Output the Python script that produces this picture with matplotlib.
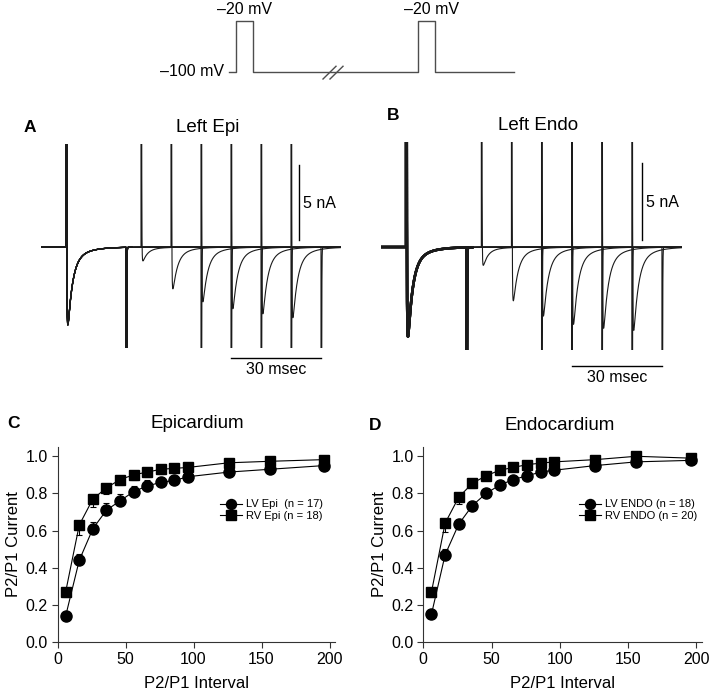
import numpy as np
import matplotlib.pyplot as plt

plt.rcParams['font.family'] = ['Liberation Sans', 'DejaVu Sans']

W, H = 709, 694

# ---- recovery curves (panels C, D) ----
interval = [6, 16, 26, 36, 46, 56, 66, 76, 86, 96, 126, 156, 196]

lv_epi = [0.14, 0.44, 0.61, 0.71, 0.76, 0.81, 0.84, 0.86, 0.87, 0.89, 0.915, 0.93, 0.95]
lv_epi_se = [0.02, 0.035, 0.034, 0.038, 0.036, 0.032, 0.03, 0.028, 0.025, 0.022, 0.02, 0.018, 0.015]
rv_epi = [0.27, 0.63, 0.77, 0.83, 0.875, 0.90, 0.915, 0.93, 0.935, 0.94, 0.965, 0.973, 0.982]
rv_epi_se = [0.03, 0.052, 0.045, 0.035, 0.032, 0.028, 0.026, 0.024, 0.022, 0.02, 0.02, 0.02, 0.018]

lv_endo = [0.15, 0.47, 0.635, 0.735, 0.80, 0.845, 0.875, 0.895, 0.915, 0.925, 0.95, 0.97, 0.978]
lv_endo_se = [0.02, 0.03, 0.03, 0.025, 0.022, 0.02, 0.018, 0.016, 0.015, 0.014, 0.012, 0.01, 0.01]
rv_endo = [0.27, 0.64, 0.78, 0.855, 0.895, 0.925, 0.94, 0.955, 0.963, 0.97, 0.982, 1.0, 0.99]
rv_endo_se = [0.03, 0.045, 0.035, 0.025, 0.02, 0.018, 0.016, 0.015, 0.014, 0.013, 0.012, 0.01, 0.01]

# ---- example current traces (panels A, B) ----
p2_start = [25, 35, 45, 55, 65, 75]   # ms after P1 onset
pulse_ms = 20
epi_p1 = 5.2                          # nA, peak inward current
epi_p2 = [0.93, 2.8, 3.67, 4.13, 4.47, 4.73]
endo_p1 = 5.87
endo_p2 = [1.2, 3.53, 4.53, 5.07, 5.33, 5.47]

# ---- voltage protocol ----
hold_mv, step_mv = -100, -20


def px_axes(fig, x0, y0, x1, y1):
    return fig.add_axes([x0 / W, 1 - y1 / H, (x1 - x0) / W, (y1 - y0) / H])


def ftext(fig, x, y, s, **kw):
    kw.setdefault('ha', 'center')
    kw.setdefault('va', 'center')
    fig.text(x / W, 1 - y / H, s, **kw)


t = np.arange(-10, 95, 0.01)


def na_shape(tt):
    tp = np.clip(tt, 0, None)
    s = (1 - np.exp(-tp / 0.18)) ** 3 * (0.85 * np.exp(-tp / 1.5) + 0.15 * np.exp(-tp / 5))
    return np.where(tt > 0, s, 0.0)


norm = na_shape(np.arange(0, 10, 0.001)).max()


def cap(tt):
    return np.where(tt >= 0, 400 * np.exp(-np.clip(tt, 0, None) / 0.06), 0.0)


def sweep(p1, p2, s):
    i = -p1 * na_shape(t) / norm + cap(t) - cap(t - pulse_ms)
    i += -p2 * na_shape(t - s) / norm + cap(t - s) - cap(t - s - pulse_ms)
    return i


fig = plt.figure(figsize=(W / 100, H / 100), dpi=100)

# ---------- protocol ----------
axp = px_axes(fig, 229, 21, 514, 72)
p1_on, p2_on, pw, p_end = 7, 189, 17, 285
tx = [0, p1_on, p1_on, p1_on + pw, p1_on + pw, p2_on, p2_on, p2_on + pw, p2_on + pw, p_end]
vy = [hold_mv, hold_mv, step_mv, step_mv, hold_mv, hold_mv, step_mv, step_mv, hold_mv, hold_mv]
axp.plot(tx, vy, color='0.3', lw=1, clip_on=False)
for off in (0, 7):
    axp.plot([94 + off, 107 + off], [-111, -91], color='0.3', lw=1, clip_on=False)
axp.set_xlim(0, p_end)
axp.set_ylim(hold_mv, step_mv)
axp.axis('off')
ftext(fig, 244, 9.5, '–20 mV', fontsize=11.5)
ftext(fig, 431, 9.5, '–20 mV', fontsize=11.5)
ftext(fig, 224, 72, '–100 mV', fontsize=11.5, ha='right')


# ---------- traces ----------
def trace_panel(x0, x1, y_top, y_bot, p1, p2s, p1_lw, bar_x, hbar_y):
    ax = px_axes(fig, x0, y_top, x1, y_bot)
    for s, p2 in zip(p2_start, p2s):
        i = sweep(p1, p2, s)
        ax.plot(t, i, color='0.1', lw=0.8)
        m = t < pulse_ms + 2
        ax.plot(t[m], i[m], color='0.1', lw=p1_lw)
    ax.set_xlim(-25 / 3, 275 / 3)
    ax.set_ylim(-101 / 15, 103 / 15)
    ax.axis('off')
    # scale bars: 5 nA, 30 ms
    ax.plot([bar_x, bar_x], [0.47, 5.47], color='k', lw=1, clip_on=False)
    ax.text(bar_x + 1.3, 2.93, '5 nA', fontsize=11.5, ha='left', va='center')
    ax.plot([55, 85], [hbar_y, hbar_y], color='k', lw=1, clip_on=False)
    ax.text(70, hbar_y - 0.75, '30 msec', fontsize=11.5, ha='center', va='center')
    return ax


trace_panel(41, 341, 144, 348, epi_p1, epi_p2, 0.9, 77.7, -7.42)
trace_panel(381, 682, 142, 350, endo_p1, endo_p2, 1.8, 78.3, -7.75)
ftext(fig, 30, 127.5, 'A', fontsize=12.5, fontweight='bold')
ftext(fig, 208, 128, 'Left Epi', fontsize=13.5)
ftext(fig, 393, 116, 'B', fontsize=12.5, fontweight='bold')
ftext(fig, 538, 125, 'Left Endo', fontsize=13.5)


# ---------- recovery curves ----------
def curve_panel(x0, x1, lv, lv_se, rv, rv_se, labels, leg_x):
    ax = px_axes(fig, x0, 447, x1, 642)
    zeros = np.zeros(len(interval))
    ax.errorbar(interval, lv, yerr=[zeros, lv_se], fmt='none', ecolor='k',
                elinewidth=0.8, capsize=2.5, capthick=0.8)
    ax.errorbar(interval, rv, yerr=[rv_se, zeros], fmt='none', ecolor='k',
                elinewidth=0.8, capsize=2.5, capthick=0.8)
    ax.plot(interval, lv, '-o', color='k', lw=0.8, ms=8, label=labels[0])
    ax.plot(interval, rv, '-s', color='k', lw=0.8, ms=7.5, label=labels[1])
    ax.set_xlim(0, 204)
    ax.set_ylim(0, 1.05)
    ax.set_xticks([0, 50, 100, 150, 200])
    ax.set_yticks([0, 0.2, 0.4, 0.6, 0.8, 1.0])
    ax.set_yticklabels(['0.0', '0.2', '0.4', '0.6', '0.8', '1.0'])
    for sp in ('top', 'right'):
        ax.spines[sp].set_visible(False)
    for sp in ('left', 'bottom'):
        ax.spines[sp].set_linewidth(0.8)
        ax.spines[sp].set_color('0.2')
    ax.tick_params(direction='out', length=4, width=0.8, labelsize=11.5, pad=3, color='0.2')
    ax.set_xlabel('P2/P1 Interval', fontsize=12)
    ax.set_ylabel('P2/P1 Current', fontsize=12)
    ax.xaxis.set_label_coords(0.5, -0.175)
    ax.yaxis.set_label_coords(-0.13, 0.5)
    ax.legend(loc='center left', bbox_to_anchor=(leg_x, 0.675), frameon=False,
              borderpad=0, borderaxespad=0, handlelength=2.0, handletextpad=0.3,
              labelspacing=0.17, fontsize=8, markerscale=0.9)
    return ax


curve_panel(57.5, 335, lv_epi, lv_epi_se, rv_epi, rv_epi_se,
            ['LV Epi  (n = 17)', 'RV Epi (n = 18)'], 0.586)
curve_panel(423.3, 701.7, lv_endo, lv_endo_se, rv_endo, rv_endo_se,
            ['LV ENDO (n = 18)', 'RV ENDO (n = 20)'], 0.56)
ftext(fig, 13.5, 423, 'C', fontsize=12.5, fontweight='bold')
ftext(fig, 197, 423, 'Epicardium', fontsize=13.5)
ftext(fig, 375, 425, 'D', fontsize=12.5, fontweight='bold')
ftext(fig, 560, 425, 'Endocardium', fontsize=13.5)

fig.savefig('out.png', dpi=100)
